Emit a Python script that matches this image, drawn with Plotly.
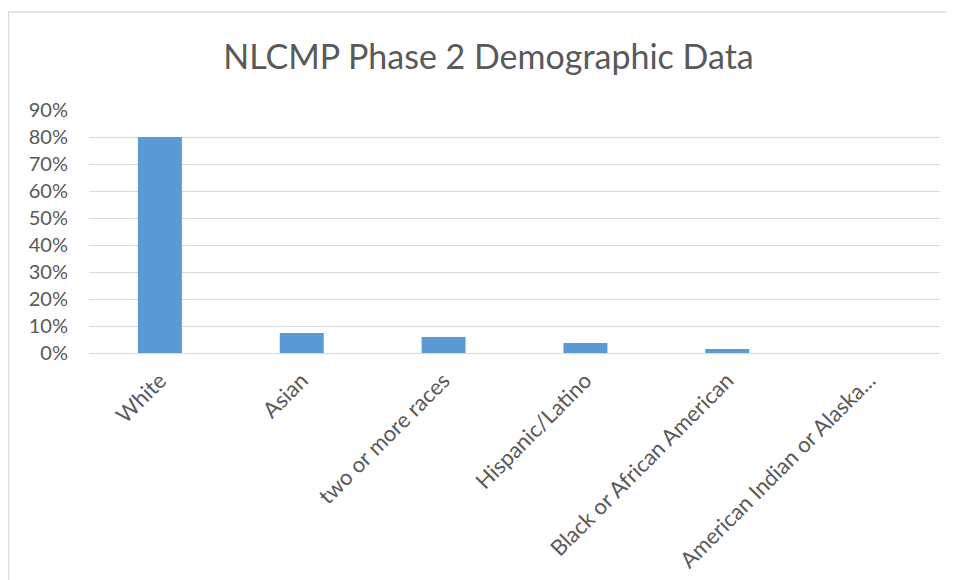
import plotly.graph_objects as go

categories = ["White", "Asian", "two or more races", "Hispanic/Latino",
              "Black or African American", "American Indian or Alaska..."]
values = [0.80, 0.074, 0.059, 0.037, 0.015, 0.0]
tick_vals = [0, 0.1, 0.2, 0.3, 0.4, 0.5, 0.6, 0.7, 0.8, 0.9]
tick_text = ["0%", "10%", "20%", "30%", "40%", "50%", "60%", "70%", "80%", "90%"]

FONT = "Lato, Calibri, Carlito, sans-serif"
TXT = "#595959"

W, H = 946, 572  # page body adds an 8px margin
fig = go.Figure(go.Bar(x=categories, y=values, marker=dict(color="#5B9BD5", line=dict(width=0))))

fig.update_layout(
    width=W, height=H,
    margin=dict(l=81, r=14, t=102, b=227),
    paper_bgcolor="white", plot_bgcolor="white",
    bargap=0.69,
    showlegend=False,
    title=dict(text="NLCMP Phase 2 Demographic Data", x=480.5 / W, xanchor="center",
               y=1 - 49 / H, yanchor="middle",
               font=dict(family=FONT, size=34, color=TXT)),
    font=dict(family=FONT, color=TXT),
    xaxis=dict(tickangle=-45, tickfont=dict(size=22, color=TXT), showgrid=False,
               showline=True, linecolor="#d9d9d9", ticks="", zeroline=False,
               ticklabelstandoff=5, automargin=False),
    yaxis=dict(range=[0, 0.9], tickvals=tick_vals, ticktext=tick_text,
               tickfont=dict(size=20, color=TXT), showgrid=True, gridcolor="#d9d9d9",
               gridwidth=1, zeroline=False, ticks="", ticklabelstandoff=20,
               automargin=False),
    shapes=[dict(type="rect", xref="paper", yref="paper",
                 x0=-80.5 / 851, x1=1.2, y0=-2, y1=1 + 98 / 243,
                 line=dict(color="#d9d9d9", width=1.5), fillcolor="rgba(0,0,0,0)",
                 layer="below")],
)

fig.write_html("out.html")
